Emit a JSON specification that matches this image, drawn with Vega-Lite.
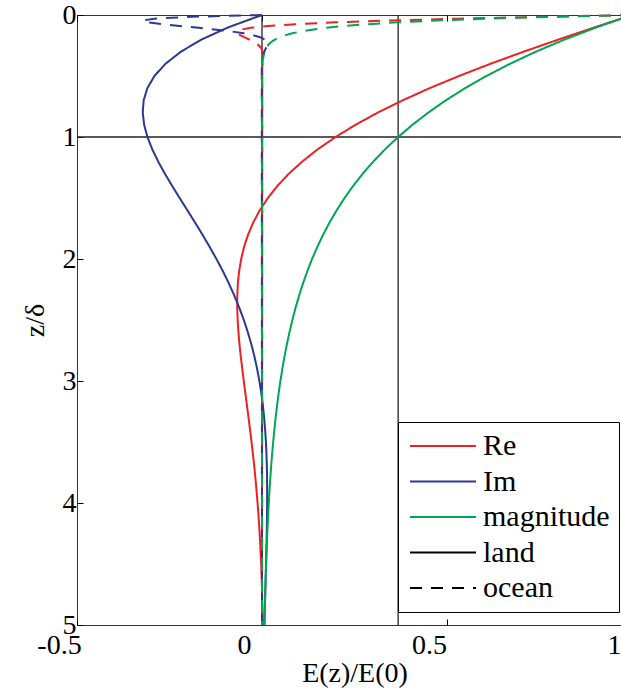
{
  "$schema": "https://vega.github.io/schema/vega-lite/v6.json",
  "autosize": "none",
  "width": 555,
  "height": 610,
  "padding": {"left": 77, "top": 15, "right": 0, "bottom": 70},
  "background": "white",
  "config": {
    "view": {"stroke": "#333333", "strokeWidth": 1},
    "axis": {
      "labelFont": "Liberation Serif", "labelFontSize": 28, "labelColor": "black",
      "titleFont": "Liberation Serif", "titleFontSize": 28, "titleFontWeight": "normal", "titleColor": "black",
      "grid": false, "domain": false, "tickColor": "black", "tickSize": -6, "tickWidth": 1
    }
  },
  "datasets": {
    "refx": [{"x": 0}, {"x": 0.3679}],
    "refz": [{"z": 1}],
    "curves": [
      {"medium": "land", "z": 0.0, "Re": 1.0, "Im": 0.0, "magnitude": 1.0},
      {"medium": "land", "z": 0.1, "Re": 0.9003, "Im": -0.0903, "magnitude": 0.9048},
      {"medium": "land", "z": 0.2, "Re": 0.8024, "Im": -0.1627, "magnitude": 0.8187},
      {"medium": "land", "z": 0.3, "Re": 0.7077, "Im": -0.2189, "magnitude": 0.7408},
      {"medium": "land", "z": 0.4, "Re": 0.6174, "Im": -0.2610, "magnitude": 0.6703},
      {"medium": "land", "z": 0.5, "Re": 0.5323, "Im": -0.2908, "magnitude": 0.6065},
      {"medium": "land", "z": 0.6, "Re": 0.4529, "Im": -0.3099, "magnitude": 0.5488},
      {"medium": "land", "z": 0.7, "Re": 0.3798, "Im": -0.3199, "magnitude": 0.4966},
      {"medium": "land", "z": 0.8, "Re": 0.3130, "Im": -0.3223, "magnitude": 0.4493},
      {"medium": "land", "z": 0.9, "Re": 0.2527, "Im": -0.3185, "magnitude": 0.4066},
      {"medium": "land", "z": 1.0, "Re": 0.1988, "Im": -0.3096, "magnitude": 0.3679},
      {"medium": "land", "z": 1.1, "Re": 0.1510, "Im": -0.2967, "magnitude": 0.3329},
      {"medium": "land", "z": 1.2, "Re": 0.1092, "Im": -0.2807, "magnitude": 0.3012},
      {"medium": "land", "z": 1.3, "Re": 0.0729, "Im": -0.2626, "magnitude": 0.2725},
      {"medium": "land", "z": 1.4, "Re": 0.0419, "Im": -0.2430, "magnitude": 0.2466},
      {"medium": "land", "z": 1.5, "Re": 0.0158, "Im": -0.2226, "magnitude": 0.2231},
      {"medium": "land", "z": 1.6, "Re": -0.0059, "Im": -0.2018, "magnitude": 0.2019},
      {"medium": "land", "z": 1.7, "Re": -0.0235, "Im": -0.1812, "magnitude": 0.1827},
      {"medium": "land", "z": 1.8, "Re": -0.0376, "Im": -0.1610, "magnitude": 0.1653},
      {"medium": "land", "z": 1.9, "Re": -0.0484, "Im": -0.1416, "magnitude": 0.1496},
      {"medium": "land", "z": 2.0, "Re": -0.0563, "Im": -0.1231, "magnitude": 0.1353},
      {"medium": "land", "z": 2.1, "Re": -0.0618, "Im": -0.1057, "magnitude": 0.1225},
      {"medium": "land", "z": 2.2, "Re": -0.0652, "Im": -0.0896, "magnitude": 0.1108},
      {"medium": "land", "z": 2.3, "Re": -0.0668, "Im": -0.0748, "magnitude": 0.1003},
      {"medium": "land", "z": 2.4, "Re": -0.0669, "Im": -0.0613, "magnitude": 0.0907},
      {"medium": "land", "z": 2.5, "Re": -0.0658, "Im": -0.0491, "magnitude": 0.0821},
      {"medium": "land", "z": 2.6, "Re": -0.0637, "Im": -0.0383, "magnitude": 0.0743},
      {"medium": "land", "z": 2.7, "Re": -0.0608, "Im": -0.0287, "magnitude": 0.0672},
      {"medium": "land", "z": 2.8, "Re": -0.0573, "Im": -0.0204, "magnitude": 0.0608},
      {"medium": "land", "z": 2.9, "Re": -0.0534, "Im": -0.0132, "magnitude": 0.0550},
      {"medium": "land", "z": 3.0, "Re": -0.0493, "Im": -0.0070, "magnitude": 0.0498},
      {"medium": "land", "z": 3.1, "Re": -0.0450, "Im": -0.0019, "magnitude": 0.0450},
      {"medium": "land", "z": 3.2, "Re": -0.0407, "Im": 0.0024, "magnitude": 0.0408},
      {"medium": "land", "z": 3.3, "Re": -0.0364, "Im": 0.0058, "magnitude": 0.0369},
      {"medium": "land", "z": 3.4, "Re": -0.0323, "Im": 0.0085, "magnitude": 0.0334},
      {"medium": "land", "z": 3.5, "Re": -0.0283, "Im": 0.0106, "magnitude": 0.0302},
      {"medium": "land", "z": 3.6, "Re": -0.0245, "Im": 0.0121, "magnitude": 0.0273},
      {"medium": "land", "z": 3.7, "Re": -0.0209, "Im": 0.0131, "magnitude": 0.0247},
      {"medium": "land", "z": 3.8, "Re": -0.0177, "Im": 0.0137, "magnitude": 0.0224},
      {"medium": "land", "z": 3.9, "Re": -0.0147, "Im": 0.0139, "magnitude": 0.0202},
      {"medium": "land", "z": 4.0, "Re": -0.0120, "Im": 0.0139, "magnitude": 0.0183},
      {"medium": "land", "z": 4.1, "Re": -0.0095, "Im": 0.0136, "magnitude": 0.0166},
      {"medium": "land", "z": 4.2, "Re": -0.0074, "Im": 0.0131, "magnitude": 0.0150},
      {"medium": "land", "z": 4.3, "Re": -0.0055, "Im": 0.0125, "magnitude": 0.0136},
      {"medium": "land", "z": 4.4, "Re": -0.0038, "Im": 0.0117, "magnitude": 0.0123},
      {"medium": "land", "z": 4.5, "Re": -0.0023, "Im": 0.0109, "magnitude": 0.0111},
      {"medium": "land", "z": 4.6, "Re": -0.0011, "Im": 0.0100, "magnitude": 0.0101},
      {"medium": "land", "z": 4.7, "Re": -0.0001, "Im": 0.0091, "magnitude": 0.0091},
      {"medium": "land", "z": 4.8, "Re": 0.0007, "Im": 0.0082, "magnitude": 0.0082},
      {"medium": "land", "z": 4.9, "Re": 0.0014, "Im": 0.0073, "magnitude": 0.0074},
      {"medium": "land", "z": 5.0, "Re": 0.0019, "Im": 0.0064, "magnitude": 0.0067},
      {"medium": "ocean", "z": 0.0, "Re": 1.0, "Im": 0.0, "magnitude": 1.0},
      {"medium": "ocean", "z": 0.015, "Re": 0.7546, "Im": -0.1927, "magnitude": 0.7788},
      {"medium": "ocean", "z": 0.03, "Re": 0.5323, "Im": -0.2908, "magnitude": 0.6065},
      {"medium": "ocean", "z": 0.045, "Re": 0.3456, "Im": -0.3220, "magnitude": 0.4724},
      {"medium": "ocean", "z": 0.06, "Re": 0.1988, "Im": -0.3096, "magnitude": 0.3679},
      {"medium": "ocean", "z": 0.075, "Re": 0.0903, "Im": -0.2719, "magnitude": 0.2865},
      {"medium": "ocean", "z": 0.09, "Re": 0.0158, "Im": -0.2226, "magnitude": 0.2231},
      {"medium": "ocean", "z": 0.105, "Re": -0.0310, "Im": -0.1710, "magnitude": 0.1738},
      {"medium": "ocean", "z": 0.12, "Re": -0.0563, "Im": -0.1231, "magnitude": 0.1353},
      {"medium": "ocean", "z": 0.135, "Re": -0.0662, "Im": -0.0820, "magnitude": 0.1054},
      {"medium": "ocean", "z": 0.15, "Re": -0.0658, "Im": -0.0491, "magnitude": 0.0821},
      {"medium": "ocean", "z": 0.165, "Re": -0.0591, "Im": -0.0244, "magnitude": 0.0639},
      {"medium": "ocean", "z": 0.18, "Re": -0.0493, "Im": -0.0070, "magnitude": 0.0498},
      {"medium": "ocean", "z": 0.195, "Re": -0.0386, "Im": 0.0042, "magnitude": 0.0388},
      {"medium": "ocean", "z": 0.21, "Re": -0.0283, "Im": 0.0106, "magnitude": 0.0302},
      {"medium": "ocean", "z": 0.225, "Re": -0.0193, "Im": 0.0134, "magnitude": 0.0235},
      {"medium": "ocean", "z": 0.24, "Re": -0.0120, "Im": 0.0139, "magnitude": 0.0183},
      {"medium": "ocean", "z": 0.27, "Re": -0.0023, "Im": 0.0109, "magnitude": 0.0111},
      {"medium": "ocean", "z": 0.30, "Re": 0.0019, "Im": 0.0064, "magnitude": 0.0067},
      {"medium": "ocean", "z": 0.36, "Re": 0.0024, "Im": 0.0007, "magnitude": 0.0025},
      {"medium": "ocean", "z": 0.42, "Re": 0.0007, "Im": -0.0006, "magnitude": 0.0009},
      {"medium": "ocean", "z": 5.0, "Re": 0.0, "Im": 0.0, "magnitude": 0.0}
    ]
  },
  "layer": [
    {
      "data": {"name": "refx"},
      "mark": {"type": "rule", "color": "#222222", "strokeWidth": 1.3},
      "encoding": {
        "x": {"field": "x", "type": "quantitative",
          "scale": {"domain": [-0.5, 1], "nice": false, "zero": false},
          "axis": {"orient": "top", "labels": false, "title": null, "values": [-0.5, 0, 0.5, 1]}}
      }
    },
    {
      "data": {"name": "refz"},
      "mark": {"type": "rule", "color": "#222222", "strokeWidth": 1.3},
      "encoding": {
        "y": {"field": "z", "type": "quantitative",
          "scale": {"domain": [0, 5], "reverse": true, "nice": false},
          "axis": {"title": "z/δ", "values": [0, 1, 2, 3, 4, 5], "labelPadding": 7, "titlePadding": 13}}
      }
    },
    {
      "data": {"name": "curves"},
      "transform": [{"fold": ["Re", "Im", "magnitude"], "as": ["comp", "value"]}],
      "mark": {"type": "line", "strokeWidth": 2},
      "encoding": {
        "x": {"field": "value", "type": "quantitative",
          "scale": {"domain": [-0.5, 1], "nice": false, "zero": false},
          "axis": {"orient": "bottom", "title": "E(z)/E(0)", "values": [-0.5, 0, 0.5, 1], "format": "~g",
            "labelExpr": "datum.value < 0 ? '-0.5' : datum.label", "labelFlush": false, "labelOffset": -18,
            "labelPadding": 12, "titlePadding": 0}},
        "y": {"field": "z", "type": "quantitative",
          "scale": {"domain": [0, 5], "reverse": true, "nice": false},
          "axis": {"title": "z/δ", "values": [0, 1, 2, 3, 4, 5], "labelPadding": 7, "titlePadding": 13}},
        "order": {"field": "z", "type": "quantitative"},
        "color": {"field": "comp", "type": "nominal",
          "scale": {"domain": ["Re", "Im", "magnitude", "land", "ocean"],
            "range": ["#ED2024", "#2B3990", "#00A651", "#000000", "#000000"]},
          "legend": {"title": null, "orient": "bottom-right", "offset": 13, "strokeColor": "black", "fillColor": "white",
            "padding": 9, "labelFont": "Liberation Serif", "labelFontSize": 30, "labelColor": "black", "labelLimit": 400,
            "symbolType": "M-3,0H3", "symbolSize": 484, "symbolStrokeWidth": 2, "symbolFillColor": "transparent",
            "symbolOffset": 21, "labelOffset": 25, "rowPadding": 5.5}},
        "strokeDash": {"field": "medium", "type": "nominal",
          "scale": {"domain": ["Re", "Im", "magnitude", "land", "ocean"],
            "range": [[1, 0], [1, 0], [1, 0], [1, 0], [12, 9]]},
          "legend": {"title": null, "orient": "bottom-right", "offset": 13, "strokeColor": "black", "fillColor": "white",
            "padding": 9, "labelFont": "Liberation Serif", "labelFontSize": 30, "labelColor": "black", "labelLimit": 400,
            "symbolType": "M-3,0H3", "symbolSize": 484, "symbolStrokeWidth": 2, "symbolFillColor": "transparent",
            "symbolOffset": 21, "labelOffset": 25, "rowPadding": 5.5}}
      }
    }
  ],
  "resolve": {"axis": {"x": "independent"}}
}
